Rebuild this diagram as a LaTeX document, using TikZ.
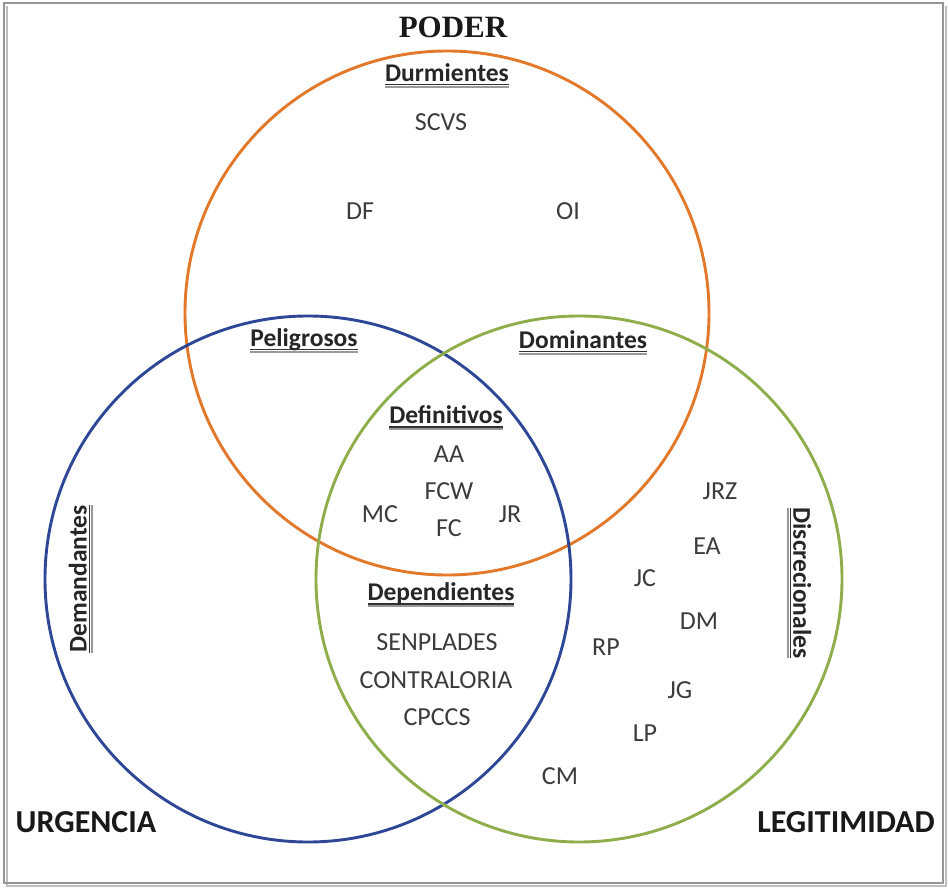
\documentclass[tikz,border=0pt]{standalone}
\usepackage{fontspec}
\setmainfont{Carlito}
\newfontfamily\titlefont{Liberation Serif}
\definecolor{poder}{RGB}{226,120,42}
\definecolor{urg}{RGB}{46,70,150}
\definecolor{legit}{RGB}{142,174,76}
\definecolor{txt}{RGB}{60,60,60}
\definecolor{frame}{RGB}{150,150,150}
\newcommand{\ulab}[1]{\setbox0\hbox{#1}\rlap{\color{black!40}\rule[-6.5pt]{\wd0}{2.6pt}}\rlap{\color{black!80}\rule[-3.8pt]{\wd0}{1.3pt}}\box0}
\tikzset{
  ring/.style={line width=2.9pt},
  lab/.style={inner sep=0pt, text=txt, font=\fontsize{26}{26}\selectfont},
  head/.style={inner sep=0pt, text=black!85, font=\bfseries\fontsize{25.5}{25.5}\selectfont},
  setname/.style={inner sep=0pt, text=black!90, font=\bfseries\fontsize{32}{32}\selectfont},
}
\begin{document}
\begin{tikzpicture}[x=1pt,y=-1pt]
\useasboundingbox (0,0) rectangle (948,888);
\fill[white] (0,0) rectangle (948,888);
% frame with shadow
\draw[black!25, line width=2pt] (7,6) -- (7,886) -- (946,886) -- (946,6);
\draw[frame, line width=2pt] (4,3) rectangle (943,883);
% circles
\node[draw=poder, ring, circle, minimum size=524pt, inner sep=0pt] (P) at (447,313) {};
\node[draw=urg, ring, circle, minimum size=526pt, inner sep=0pt] (U) at (308,579) {};
\node[draw=legit, ring, circle, minimum size=526pt, inner sep=0pt] (L) at (579,579) {};
% set names
\node[inner sep=0pt, text=black!90, font=\titlefont\bfseries\fontsize{31}{31}\selectfont] (poder) at (453,27) {PODER};
\node[setname] (urgencia) at (86,822) {URGENCIA};
\node[setname] (legitimidad) at (846,822) {LEGITIMIDAD};
% region headings
\node[head] (durm) at (447,76) {\ulab{Durmientes}};
\node[head] (pelig) at (304,341) {\ulab{Peligrosos}};
\node[head] (domin) at (583,343) {\ulab{Dominantes}};
\node[head] (defin) at (446,418) {\ulab{Definitivos}};
\node[head] (depen) at (441,595) {\ulab{Dependientes}};
\node[head, rotate=90] (deman) at (81,579) {\ulab{Demandantes}};
\node[head, rotate=-90] (discr) at (799,583) {\ulab{Discrecionales}};
% stakeholders
\node[lab] (scvs) at (441,122) {SCVS};
\node[lab] (df) at (360,211) {DF};
\node[lab] (oi) at (568,211) {OI};
\node[lab] (aa) at (449,454) {AA};
\node[lab] (fcw) at (449,491) {FCW};
\node[lab] (fc) at (449,528) {FC};
\node[lab] (mc) at (380,514) {MC};
\node[lab] (jr) at (510,514) {JR};
\node[lab] (senp) at (437,642) {SENPLADES};
\node[lab] (contr) at (436,680) {CONTRALORIA};
\node[lab] (cpccs) at (437,717) {CPCCS};
\node[lab] (jrz) at (720,491) {JRZ};
\node[lab] (ea) at (707,546) {EA};
\node[lab] (jc) at (645,578) {JC};
\node[lab] (dm) at (699,621) {DM};
\node[lab] (rp) at (606,647) {RP};
\node[lab] (jg) at (680,690) {JG};
\node[lab] (lp) at (645,733) {LP};
\node[lab] (cm) at (560,776) {CM};
\end{tikzpicture}
\end{document}
